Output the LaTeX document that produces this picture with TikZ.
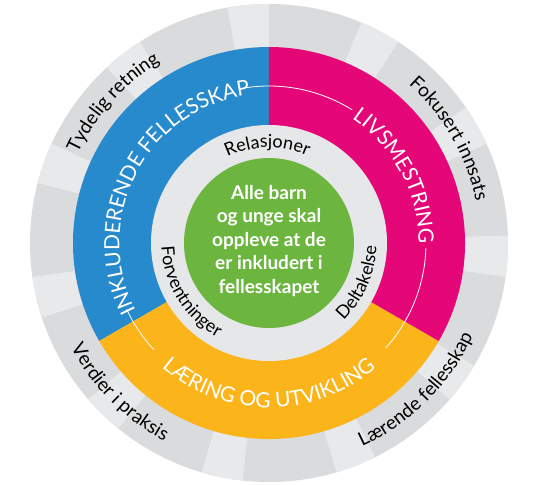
\documentclass[tikz,border=0pt]{standalone}
\usepackage{fontspec}
\setmainfont{Lato}
\usetikzlibrary{decorations.text}

\definecolor{ringdark}{RGB}{218,219,221}
\definecolor{ringlight}{RGB}{232,233,234}
\definecolor{innergray}{RGB}{230,231,232}
\definecolor{inkblue}{RGB}{39,138,204}
\definecolor{livpink}{RGB}{229,6,119}
\definecolor{laryellow}{RGB}{252,180,27}
\definecolor{goalgreen}{RGB}{108,182,64}

\newcommand{\ringfont}{\fontsize{21}{21}\selectfont}
\newcommand{\labelfont}{\fontsize{19}{19}\selectfont}
\newcommand{\innerfont}{\fontsize{18}{18}\selectfont}

\tikzset{
  ringtext/.style={decorate,decoration={text along path,text align=center,text color=white,text={|\ringfont|#1}}},
  labeltext/.style={decorate,decoration={text along path,text align=center,text color=black,text={|\labelfont|#1}}},
  innertext/.style={decorate,decoration={text along path,text align=center,text color=black,text={|\innerfont|#1}}},
  whiteline/.style={draw=white,line width=0.8pt}
}

\begin{document}
\begin{tikzpicture}[x=1pt,y=1pt]
\useasboundingbox (-269,-242) rectangle (267,243);
\coordinate (c) at (0,0);
\fill[ringdark] (c) circle[radius=239];
\foreach \k in {0,...,10}{
  \pgfmathsetmacro\a{95-\k*360/11}
  \fill[ringlight] ({\a-5}:196) arc[start angle=\a-5,end angle=\a+5,radius=196]
    -- ({\a+5}:239) arc[start angle=\a+5,end angle=\a-5,radius=239] -- cycle;
}
\fill[inkblue] (c) -- (90:196) arc[start angle=90,end angle=210,radius=196] -- cycle;
\fill[laryellow] (c) -- (210:196) arc[start angle=210,end angle=330,radius=196] -- cycle;
\fill[livpink] (c) -- (330:196) arc[start angle=330,end angle=450,radius=196] -- cycle;
\fill[innergray] (c) circle[radius=118];
\fill[goalgreen] (c) circle[radius=85];
\draw[whiteline] (100:157) arc[start angle=100,end angle=58,radius=157];
\draw[whiteline] (-2:157) arc[start angle=-2,end angle=-42,radius=157];
\draw[whiteline] (205:157) arc[start angle=205,end angle=223,radius=157];
\path[ringtext=INKLUDERENDE FELLESSKAP] (212:149.5) arc[start angle=212,end angle=92,radius=149.5];
\path[ringtext=LIVSMESTRING] (88:149.5) arc[start angle=88,end angle=-32,radius=149.5];
\path[ringtext=LÆRING OG UTVIKLING] (210:164.5) arc[start angle=210,end angle=330,radius=164.5];
\path[labeltext=Tydelig retning] (178:211) arc[start angle=178,end angle=98,radius=211];
\path[labeltext=Fokusert innsats] (70:211) arc[start angle=70,end angle=-10,radius=211];
\path[labeltext=Verdier i praksis] (185:224) arc[start angle=185,end angle=265,radius=224];
\path[labeltext=Lærende fellesskap] (275:224) arc[start angle=275,end angle=355,radius=224];
\path[innertext=Relasjoner] (141:95.5) arc[start angle=141,end angle=41,radius=95.5];
\path[innertext=Forventninger] (161.5:107.5) arc[start angle=161.5,end angle=261.5,radius=107.5];
\path[innertext=Deltakelse] (286:107.5) arc[start angle=286,end angle=386,radius=107.5];
\node[text=white,font=\bfseries\fontsize{19}{23.5}\selectfont,align=center] (goal) at (0,2)
  {Alle barn\\og unge skal\\oppleve at de\\er inkludert i\\fellesskapet};
\end{tikzpicture}
\end{document}
